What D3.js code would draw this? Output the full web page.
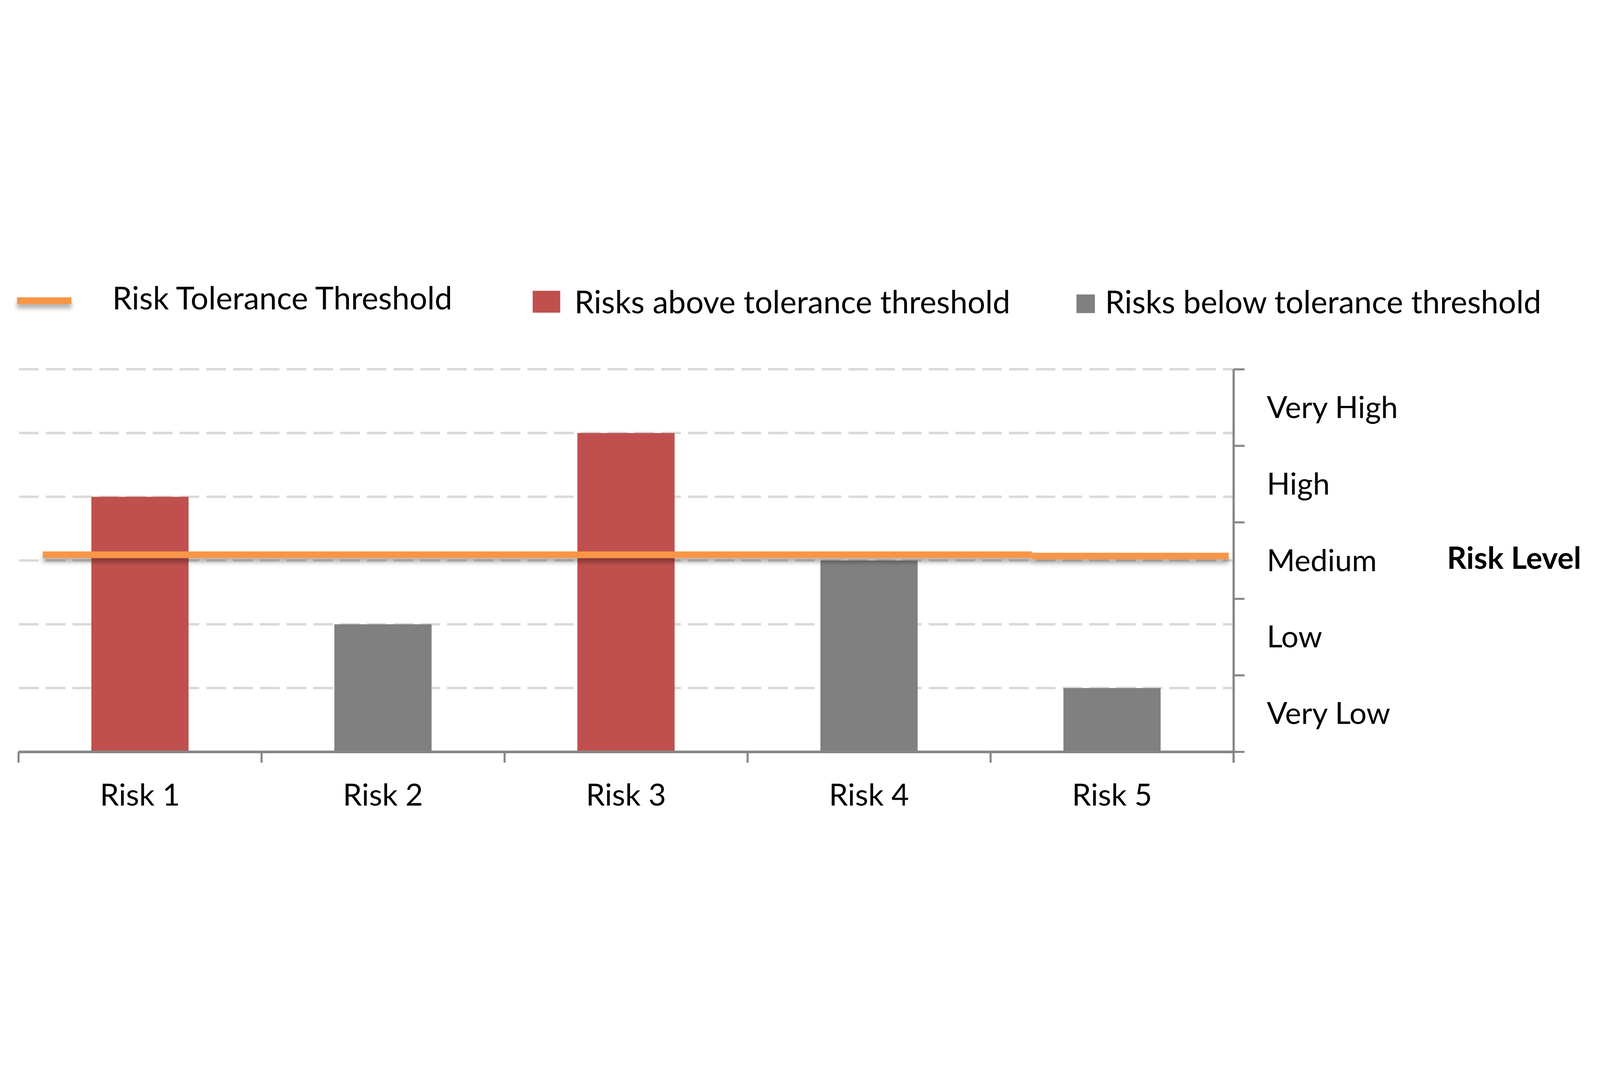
<!DOCTYPE html>
<html>
<head>
<meta charset="utf-8">
<script src="https://cdn.jsdelivr.net/npm/d3@7"></script>
<style>
  html, body { margin: 0; padding: 0; background: #fff; overflow: hidden; }
  #canvas { width: 100vw; height: 100vh; }
  svg { display: block; width: 100%; height: 100%; }
  text { font-family: Lato, "Open Sans", sans-serif; fill: #000; }
</style>
</head>
<body>
<div id="canvas"></div>
<script>
// chart data
var risks = ['Risk 1', 'Risk 2', 'Risk 3', 'Risk 4', 'Risk 5'];
var riskScores = [4, 2, 5, 3, 1];
var levelLabels = ['Very Low', 'Low', 'Medium', 'High', 'Very High'];
// threshold drawn as two flat pieces, x in category units
var thresholdStart = [0.1, 4.17];
var thresholdEnd = [4.17, 4.98];
var thresholdValue = [3.09, 3.07];
var legendLabels = ['Risk Tolerance Threshold', 'Risks above tolerance threshold', 'Risks below tolerance threshold'];

document.addEventListener('DOMContentLoaded', function() {
	var W = 7894, H = 2790,
		left = 91, right = 6086, top = 528, bottom = 2415,
		red = '#C0504D', grey = '#808080', orange = '#F79646', axisGrey = '#868686',
		fontSize = 150, legendSize = 155;

	var svg = d3.select('#canvas').append('svg')
		.attr('viewBox', '0 0 ' + W + ' ' + H);

	// soft shadow under the orange lines (user space so flat lines keep it)
	var f = svg.append('defs').append('filter').attr('id', 'shadow')
		.attr('filterUnits', 'userSpaceOnUse')
		.attr('x', 0).attr('y', 0).attr('width', W).attr('height', H);
	f.append('feDropShadow').attr('dx', 0).attr('dy', 20).attr('stdDeviation', 11)
		.attr('flood-color', '#000').attr('flood-opacity', 0.32);

	var x = d3.scaleBand().domain(risks).range([left, right]).paddingInner(0.6).paddingOuter(0.3);
	var xLin = d3.scaleLinear().domain([0, risks.length]).range([left, right]);
	var y = d3.scaleLinear().domain([0, 6]).range([bottom, top]);
	var y2 = d3.scaleLinear().domain([0, levelLabels.length]).range([bottom, top]);

	// gridlines
	svg.append('g').selectAll('line')
		.data(d3.range(1, 7))
		.enter().append('line')
		.attr('x1', left + 3).attr('x2', right)
		.attr('y1', function(d) { return y(d); })
		.attr('y2', function(d) { return y(d); })
		.attr('stroke', '#D9D9D9').attr('stroke-width', 12)
		.attr('stroke-dasharray', '97,35');

	// bars
	svg.append('g').selectAll('rect')
		.data(riskScores)
		.enter().append('rect')
		.attr('x', function(d, i) { return x(risks[i]); })
		.attr('width', x.bandwidth())
		.attr('y', function(d) { return y(d); })
		.attr('height', function(d) { return y(0) - y(d); })
		.attr('fill', function(d) { return d > thresholdValue[0] ? red : grey; });

	// bottom axis
	var xAxis = svg.append('g').attr('transform', 'translate(0,' + bottom + ')')
		.call(d3.axisBottom(xLin).tickValues(d3.range(0, risks.length + 1)).tickSize(54).tickSizeOuter(0).tickFormat(''));
	xAxis.select('.domain').attr('stroke', axisGrey).attr('stroke-width', 13);
	xAxis.selectAll('.tick line').attr('stroke', axisGrey).attr('stroke-width', 10);

	svg.append('g').selectAll('text')
		.data(risks)
		.enter().append('text')
		.attr('x', function(d) { return x(d) + x.bandwidth() / 2; })
		.attr('y', 2680)
		.attr('text-anchor', 'middle')
		.attr('font-size', fontSize)
		.text(function(d) { return d; });

	// right axis
	var yAxis = svg.append('g').attr('transform', 'translate(' + right + ',0)')
		.call(d3.axisRight(y2).tickValues(d3.range(0, levelLabels.length + 1)).tickSize(54).tickSizeOuter(0).tickFormat(''));
	yAxis.select('.domain').attr('stroke', axisGrey).attr('stroke-width', 11);
	yAxis.selectAll('.tick line').attr('stroke', axisGrey).attr('stroke-width', 10);
	svg.append('line')
		.attr('x1', right).attr('x2', right)
		.attr('y1', bottom).attr('y2', bottom + 54)
		.attr('stroke', axisGrey).attr('stroke-width', 10);

	svg.append('g').selectAll('text')
		.data(levelLabels)
		.enter().append('text')
		.attr('x', 6250)
		.attr('y', function(d, i) { return y2(i + 0.5) + 52; })
		.attr('font-size', fontSize)
		.text(function(d) { return d; });

	svg.append('text')
		.attr('x', 7139).attr('y', 1512)
		.attr('font-size', fontSize).attr('font-weight', 'bold')
		.text('Risk Level');

	// threshold line
	svg.append('g').attr('filter', 'url(#shadow)').selectAll('line')
		.data(thresholdValue)
		.enter().append('line')
		.attr('x1', function(d, i) { return xLin(thresholdStart[i]); })
		.attr('x2', function(d, i) { return xLin(thresholdEnd[i]); })
		.attr('y1', function(d) { return y(d); })
		.attr('y2', function(d) { return y(d); })
		.attr('stroke', orange).attr('stroke-width', 33);

	// legend
	var legend = svg.append('g');
	legend.append('line')
		.attr('x1', 84).attr('x2', 352).attr('y1', 190).attr('y2', 190)
		.attr('stroke', orange).attr('stroke-width', 34)
		.attr('filter', 'url(#shadow)');
	legend.append('text').attr('x', 554).attr('y', 232).attr('font-size', legendSize).text(legendLabels[0]);
	legend.append('rect').attr('x', 2628).attr('y', 141).attr('width', 136).attr('height', 108).attr('fill', red);
	legend.append('text').attr('x', 2834).attr('y', 253).attr('font-size', legendSize).text(legendLabels[1]);
	legend.append('rect').attr('x', 5311).attr('y', 159).attr('width', 91).attr('height', 92).attr('fill', grey);
	legend.append('text').attr('x', 5452).attr('y', 253).attr('font-size', legendSize).text(legendLabels[2]);
});
</script>
</body>
</html>
